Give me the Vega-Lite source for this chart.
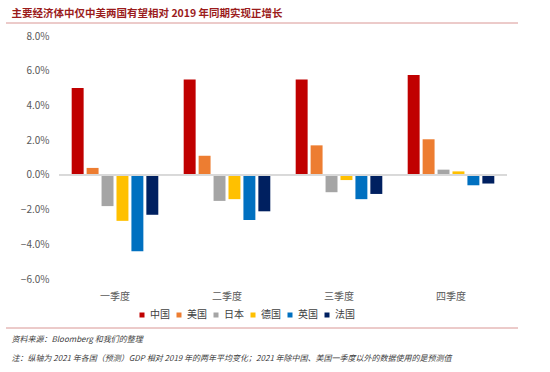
{
  "$schema": "https://vega.github.io/schema/vega-lite/v6.json",
  "background": "white",
  "padding": {"left": 5, "top": 9, "right": 5, "bottom": 2},
  "config": {
    "view": {"stroke": null},
    "font": "Noto Sans CJK SC",
    "axisY": {"labelOverlap": false}
  },
  "spacing": 7,
  "resolve": {"legend": {"color": "independent"}},
  "vconcat": [
    {
      "width": 512,
      "height": 1,
      "title": {
        "text": "主要经济体中仅中美两国有望相对 2019 年同期实现正增长",
        "anchor": "start",
        "dx": 6,
        "offset": 3,
        "fontSize": 10.5,
        "fontWeight": "bold",
        "color": "#9B1C1C",
        "font": "Noto Sans CJK SC"
      },
      "data": {"values": [{"a": 0, "b": 1}]},
      "mark": {"type": "rule", "color": "#D99694", "strokeWidth": 1},
      "encoding": {
        "x": {"field": "a", "type": "quantitative", "axis": null, "scale": {"domain": [0, 1]}},
        "x2": {"field": "b"},
        "y": {"datum": 1, "type": "quantitative", "axis": null, "scale": {"domain": [0, 1]}}
      }
    },
    {
      "width": 512,
      "height": 243,
      "data": {
        "values": [
          {"q": "一季度", "c": "中国", "v": 5.0},
          {"q": "一季度", "c": "美国", "v": 0.4},
          {"q": "一季度", "c": "日本", "v": -1.8},
          {"q": "一季度", "c": "德国", "v": -2.65},
          {"q": "一季度", "c": "英国", "v": -4.4},
          {"q": "一季度", "c": "法国", "v": -2.3},
          {"q": "二季度", "c": "中国", "v": 5.5},
          {"q": "二季度", "c": "美国", "v": 1.1},
          {"q": "二季度", "c": "日本", "v": -1.5},
          {"q": "二季度", "c": "德国", "v": -1.4},
          {"q": "二季度", "c": "英国", "v": -2.6},
          {"q": "二季度", "c": "法国", "v": -2.1},
          {"q": "三季度", "c": "中国", "v": 5.5},
          {"q": "三季度", "c": "美国", "v": 1.7},
          {"q": "三季度", "c": "日本", "v": -1.0},
          {"q": "三季度", "c": "德国", "v": -0.3},
          {"q": "三季度", "c": "英国", "v": -1.4},
          {"q": "三季度", "c": "法国", "v": -1.1},
          {"q": "四季度", "c": "中国", "v": 5.75},
          {"q": "四季度", "c": "美国", "v": 2.05},
          {"q": "四季度", "c": "日本", "v": 0.3},
          {"q": "四季度", "c": "德国", "v": 0.2},
          {"q": "四季度", "c": "英国", "v": -0.6},
          {"q": "四季度", "c": "法国", "v": -0.5}
        ]
      },
      "layer": [
        {
          "mark": {"type": "bar"},
          "encoding": {
            "x": {
              "field": "q", "type": "nominal",
              "sort": ["一季度", "二季度", "三季度", "四季度"],
              "scale": {"domain": ["一季度", "二季度", "三季度", "四季度"], "paddingInner": 0.2, "paddingOuter": 0.3857, "align": 0.743},
              "axis": {
                "title": null, "domain": false, "ticks": false, "labelAngle": 0,
                "labelPadding": 12, "labelFontSize": 10, "labelColor": "#595959",
                "labelFont": "Noto Sans CJK SC"
              }
            },
            "xOffset": {
              "field": "c", "type": "nominal",
              "sort": ["中国", "美国", "日本", "德国", "英国", "法国"],
              "scale": {"paddingInner": 0.2, "paddingOuter": 0.1}
            },
            "y": {
              "field": "v", "type": "quantitative",
              "scale": {"domain": [-6, 8], "nice": false},
              "axis": {
                "title": null, "domain": false, "ticks": false, "grid": false,
                "values": [-6, -4, -2, 0, 2, 4, 6, 8],
                "labelOverlap": false,
                "labelExpr": "format(datum.value, '.1f') + '%'",
                "labelFontSize": 10, "labelColor": "#595959", "labelPadding": 10,
                "offset": -53, "labelFont": "Noto Sans CJK SC"
              }
            },
            "color": {
              "field": "c", "type": "nominal",
              "sort": ["中国", "美国", "日本", "德国", "英国", "法国"],
              "scale": {
                "domain": ["中国", "美国", "日本", "德国", "英国", "法国"],
                "range": ["#C00000", "#ED7D31", "#A5A5A5", "#FFC000", "#0070C0", "#002060"]
              },
              "legend": {
                "title": null,
                "orient": "none",
                "direction": "horizontal",
                "legendX": 131,
                "legendY": 274,
                "symbolType": "square",
                "symbolSize": 25,
                "symbolStrokeWidth": 0,
                "labelFontSize": 10,
                "labelColor": "#404040",
                "labelOffset": 3,
                "columnPadding": 4,
                "padding": 0,
                "labelFont": "Noto Sans CJK SC"
              }
            }
          }
        },
        {
          "mark": {"type": "rule", "color": "#D9D9D9", "strokeWidth": 1.5},
          "encoding": {
            "y": {
              "datum": 0, "type": "quantitative",
              "axis": {
                "title": null, "domain": false, "ticks": false, "grid": false,
                "values": [-6, -4, -2, 0, 2, 4, 6, 8],
                "labelOverlap": false,
                "labelExpr": "format(datum.value, '.1f') + '%'",
                "labelFontSize": 10, "labelColor": "#595959", "labelPadding": 10,
                "offset": -53, "labelFont": "Noto Sans CJK SC"
              }
            },
            "x": {"datum": "一季度", "bandPosition": -0.125},
            "x2": {"datum": "四季度", "bandPosition": 1.125}
          }
        }
      ]
    },
    {
      "width": 512,
      "height": 1,
      "title": {
        "text": ["资料来源：Bloomberg 和我们的整理", "注：纵轴为 2021 年各国（预测）GDP 相对 2019 年的两年平均变化；2021 年除中国、美国一季度以外的数据使用的是预测值"],
        "orient": "bottom",
        "anchor": "start",
        "dx": 6,
        "offset": 7,
        "fontSize": 8,
        "lineHeight": 19,
        "fontStyle": "italic",
        "fontWeight": "normal",
        "color": "#404040",
        "font": "Noto Sans CJK SC"
      },
      "data": {"values": [{"a": 0, "b": 1}]},
      "mark": {"type": "rule", "color": "#D99694", "strokeWidth": 1},
      "encoding": {
        "x": {"field": "a", "type": "quantitative", "axis": null, "scale": {"domain": [0, 1]}},
        "x2": {"field": "b"},
        "y": {"datum": 1, "type": "quantitative", "axis": null, "scale": {"domain": [0, 1]}}
      }
    }
  ]
}
